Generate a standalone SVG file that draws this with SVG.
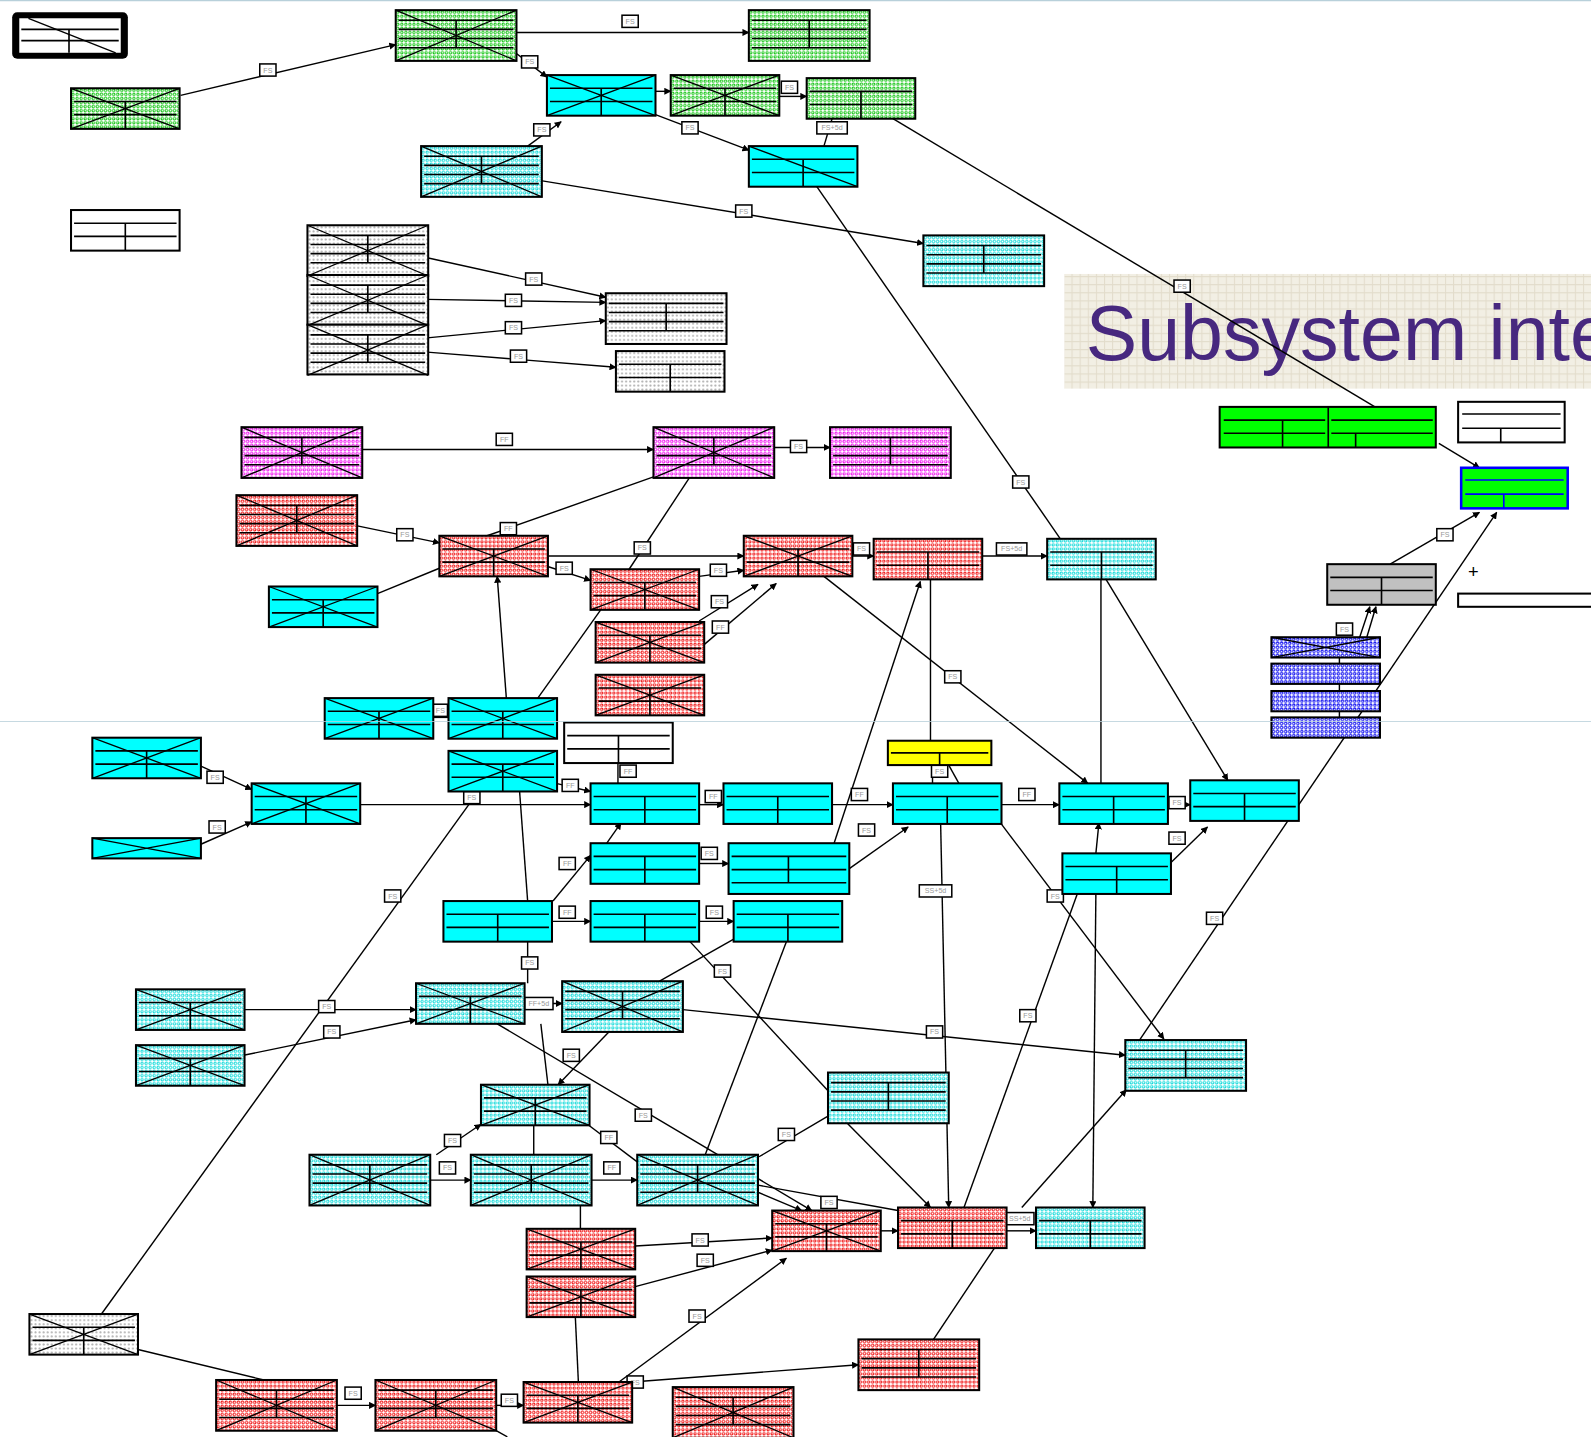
<svg xmlns="http://www.w3.org/2000/svg" xmlns:xlink="http://www.w3.org/1999/xlink" width="1591" height="1437" viewBox="0 0 1591 1437">
<style>
.b{stroke:#000;stroke-width:2}
.ln{fill:none;stroke:#000;stroke-width:1.6}
.xl{fill:none;stroke:#000;stroke-width:1.3}
.c{fill:none;stroke:#000;stroke-width:1.4}
.a{marker-end:url(#ar)}
.lb rect{fill:#fff;stroke:#000;stroke-width:1.5}
.lb text{font-family:"Liberation Sans",Arial,sans-serif;font-size:7px;fill:#999;text-anchor:middle}
.gd{fill:url(#pG)}.cd{fill:url(#pC)}.rd{fill:url(#pR)}.md{fill:url(#pM)}.kd{fill:url(#pK)}.bd{fill:url(#pB)}
.cy{fill:#00FFFF}.gr{fill:#00FF00}.ye{fill:#FFFF00}.gy{fill:#C0C0C0}.wh{fill:#fff}
</style>
<defs>
<pattern id="pG" width="4" height="4" patternUnits="userSpaceOnUse"><rect width="4" height="4" fill="#fff"/><circle cx="2" cy="2" r="1.2" fill="none" stroke="#00c000" stroke-width="0.9"/></pattern>
<pattern id="pC" width="4" height="4" patternUnits="userSpaceOnUse"><rect width="4" height="4" fill="#fff"/><circle cx="2" cy="2" r="1.2" fill="none" stroke="#00d8d8" stroke-width="0.9"/></pattern>
<pattern id="pR" width="4" height="4" patternUnits="userSpaceOnUse"><rect width="4" height="4" fill="#fff"/><circle cx="2" cy="2" r="1.2" fill="none" stroke="#f00000" stroke-width="0.9"/></pattern>
<pattern id="pM" width="4" height="4" patternUnits="userSpaceOnUse"><rect width="4" height="4" fill="#fff"/><circle cx="2" cy="2" r="1.2" fill="none" stroke="#f000f0" stroke-width="0.9"/></pattern>
<pattern id="pK" width="4" height="4" patternUnits="userSpaceOnUse"><rect width="4" height="4" fill="#fff"/><circle cx="2" cy="2" r="1" fill="#b0b0b0"/></pattern>
<pattern id="pB" width="4" height="4" patternUnits="userSpaceOnUse"><rect width="4" height="4" fill="#fff"/><circle cx="2" cy="2" r="1.2" fill="none" stroke="#1010f0" stroke-width="1"/></pattern>
<pattern id="pT" width="8" height="8" patternUnits="userSpaceOnUse"><rect width="8" height="8" fill="#f2efe4"/><path d="M0 0.5H8M0.5 0V8" stroke="#e2dccb" stroke-width="1"/></pattern>
<marker id="ar" viewBox="0 0 10 10" refX="9" refY="5" markerWidth="5" markerHeight="5" orient="auto-start-reverse"><path d="M0 0L10 5L0 10z" fill="#000"/></marker>
<path id="gA" class="ln" d="M3 13H104M3 26H104M53.5 13V40"/>
<path id="gB" class="ln" d="M3 10H116M3 19H116M3 28H116M3 37H116M59.5 10V37"/>
<path id="xA" class="xl" d="M0 0L107 40M107 0L0 40"/>
<path id="xB" class="xl" d="M0 0L119 50M119 0L0 50"/>
</defs>
<rect width="1591" height="1437" fill="#fff"/>
<g transform="scale(1.0147)">
<g id="title">
<rect x="1049" y="270" width="530" height="113" fill="url(#pT)"/>
<text x="1070" y="355" font-family="'Liberation Sans',Arial,sans-serif" font-size="76" fill="#47287f">Subsystem inte</text>
</g>
<g id="connectors">
<path class="c a" d="M178 94L390 44"/><path class="c a" d="M508 32H738"/><path class="c a" d="M508 52L539 76"/>
<path class="c a" d="M646 90H661"/><path class="c a" d="M768 95H795"/><path class="c a" d="M646 113L738 148"/>
<path class="c" d="M820 117L812 144"/><path class="c a" d="M520 144L553 120"/><path class="c a" d="M533 178L910 240"/>
<path class="c" d="M880 117L1355 401"/><path class="c" d="M805 184L1045 531"/>
<path class="c a" d="M421 254L597 293"/><path class="c a" d="M421 295L597 298"/><path class="c a" d="M421 333L597 316"/><path class="c a" d="M421 347L607 362"/>
<path class="c a" d="M357 443H644"/><path class="c a" d="M763 441H818"/><path class="c a" d="M351 518L433 535"/>
<path class="c" d="M644 470L480 528"/><path class="c" d="M372 585L433 560"/><path class="c a" d="M539 548H733"/>
<path class="c a" d="M539 558L582 572"/><path class="c" d="M680 470L620 561"/><path class="c a" d="M689 568L733 562"/>
<path class="c a" d="M689 612L747 576"/><path class="c a" d="M693 636L765 575"/><path class="c a" d="M839 548H861"/>
<path class="c a" d="M967 548H1032"/><path class="c" d="M917 571V730"/><path class="c a" d="M822 831L907 573"/>
<path class="c a" d="M812 568L1072 772"/><path class="c" d="M1085 571V772"/><path class="c a" d="M1090 571L1210 769"/>
<path class="c a" d="M1370 556L1458 505"/><path class="c a" d="M1123 1025L1475 505"/><path class="c a" d="M1418 437L1458 461"/>
<path class="c a" d="M1340 628L1350 598"/><path class="c a" d="M1347 628L1356 598"/>
<path class="c a" d="M499 688L490 568"/><path class="c" d="M530 688L592 601"/><path class="c" d="M427 707H442"/>
<path class="c a" d="M198 755L248 778"/><path class="c a" d="M198 832L248 810"/><path class="c a" d="M354 793H582"/>
<path class="c" d="M609 752V772"/><path class="c a" d="M548 772L582 780"/><path class="c a" d="M688 793H713"/>
<path class="c a" d="M819 793H880"/><path class="c a" d="M986 793H1044"/><path class="c a" d="M1150 793H1173"/>
<path class="c a" d="M837 856L895 815"/><path class="c a" d="M688 851H718"/><path class="c a" d="M545 888L582 843"/>
<path class="c" d="M919 754V772"/><path class="c" d="M935 754L945 772"/><path class="c a" d="M927 811L935 1190"/>
<path class="c a" d="M986 811L1147 1024"/><path class="c a" d="M1153 851L1190 815"/><path class="c a" d="M1080 841L1083 811"/>
<path class="c a" d="M1080 880L1077 1190"/><path class="c" d="M1062 880L950 1190"/>
<path class="c a" d="M543 908H582"/><path class="c a" d="M688 908H723"/><path class="c" d="M512 779L520 888"/>
<path class="c" d="M462 793L100 1295"/><path class="c" d="M520 928V969"/><path class="c a" d="M516 989H554"/>
<path class="c" d="M533 1009L540 1069"/><path class="c a" d="M600 1017L550 1069"/>
<path class="c a" d="M240 995H410"/><path class="c a" d="M240 1040L410 1005"/><path class="c a" d="M673 995L1109 1040"/>
<path class="c a" d="M490 1009L800 1193"/><path class="c" d="M680 928L816 1075"/><path class="c" d="M724 925L650 967"/>
<path class="c" d="M775 928L695 1138"/><path class="c" d="M575 1105L628 1145"/><path class="c a" d="M430 1138L474 1108"/>
<path class="c a" d="M424 1163H464"/><path class="c a" d="M583 1163H628"/><path class="c" d="M526 1109V1138"/>
<path class="c" d="M816 1100L748 1140"/><path class="c a" d="M747 1175L790 1193"/><path class="c" d="M747 1168L885 1193"/>
<path class="c a" d="M626 1228L761 1220"/><path class="c a" d="M626 1268L761 1232"/><path class="c" d="M572 1188V1211"/>
<path class="c" d="M567 1298L570 1362"/><path class="c a" d="M610 1362L775 1240"/><path class="c a" d="M867 1213H885"/>
<path class="c a" d="M991 1213H1021"/><path class="c a" d="M834 1106L917 1190"/><path class="c" d="M920 1320L980 1230"/>
<path class="c a" d="M1007 1190L1110 1074"/><path class="c" d="M136 1330L260 1360"/><path class="c a" d="M332 1385H370"/>
<path class="c a" d="M489 1385H516"/><path class="c a" d="M623 1362L846 1345"/><path class="c a" d="M598 831L612 811"/>
<path class="c" d="M1320 648V654M1320 674V681M1320 701V707M489 1410L500 1416"/>
<g class="lb">
<rect x="256" y="63" width="16" height="12"/><text x="264" y="71.5">FS</text>
<rect x="613" y="15" width="16" height="12"/><text x="621" y="23.5">FS</text>
<rect x="514" y="55" width="16" height="12"/><text x="522" y="63.5">FS</text>
<rect x="770" y="80" width="16" height="12"/><text x="778" y="88.5">FS</text>
<rect x="672" y="120" width="16" height="12"/><text x="680" y="128.5">FS</text>
<rect x="805" y="120" width="30" height="12"/><text x="820" y="128.5">FS+5d</text>
<rect x="526" y="122" width="16" height="12"/><text x="534" y="130.5">FS</text>
<rect x="725" y="202" width="16" height="12"/><text x="733" y="210.5">FS</text>
<rect x="1157" y="276" width="16" height="12"/><text x="1165" y="284.5">FS</text>
<rect x="998" y="469" width="16" height="12"/><text x="1006" y="477.5">FS</text>
<rect x="518" y="269" width="16" height="12"/><text x="526" y="277.5">FS</text>
<rect x="498" y="290" width="16" height="12"/><text x="506" y="298.5">FS</text>
<rect x="498" y="317" width="16" height="12"/><text x="506" y="325.5">FS</text>
<rect x="503" y="345" width="16" height="12"/><text x="511" y="353.5">FS</text>
<rect x="489" y="427" width="16" height="12"/><text x="497" y="435.5">FF</text>
<rect x="779" y="434" width="16" height="12"/><text x="787" y="442.5">FS</text>
<rect x="391" y="521" width="16" height="12"/><text x="399" y="529.5">FS</text>
<rect x="493" y="515" width="16" height="12"/><text x="501" y="523.5">FF</text>
<rect x="548" y="554" width="16" height="12"/><text x="556" y="562.5">FS</text>
<rect x="625" y="534" width="16" height="12"/><text x="633" y="542.5">FS</text>
<rect x="700" y="556" width="16" height="12"/><text x="708" y="564.5">FS</text>
<rect x="701" y="587" width="16" height="12"/><text x="709" y="595.5">FS</text>
<rect x="702" y="612" width="16" height="12"/><text x="710" y="620.5">FF</text>
<rect x="841" y="535" width="16" height="12"/><text x="849" y="543.5">FS</text>
<rect x="982" y="535" width="30" height="12"/><text x="997" y="543.5">FS+5d</text>
<rect x="931" y="661" width="16" height="12"/><text x="939" y="669.5">FS</text>
<rect x="1416" y="521" width="16" height="12"/><text x="1424" y="529.5">FS</text>
<rect x="1189" y="899" width="16" height="12"/><text x="1197" y="907.5">FS</text>
<rect x="1317" y="614" width="16" height="12"/><text x="1325" y="622.5">FS</text>
<rect x="427" y="694" width="14" height="12"/><text x="434" y="702.5">FS</text>
<rect x="204" y="760" width="16" height="12"/><text x="212" y="768.5">FS</text>
<rect x="206" y="809" width="16" height="12"/><text x="214" y="817.5">FS</text>
<rect x="457" y="780" width="16" height="12"/><text x="465" y="788.5">FS</text>
<rect x="611" y="754" width="16" height="12"/><text x="619" y="762.5">FF</text>
<rect x="554" y="768" width="16" height="12"/><text x="562" y="776.5">FF</text>
<rect x="695" y="779" width="16" height="12"/><text x="703" y="787.5">FF</text>
<rect x="839" y="777" width="16" height="12"/><text x="847" y="785.5">FF</text>
<rect x="1004" y="777" width="16" height="12"/><text x="1012" y="785.5">FF</text>
<rect x="1152" y="785" width="16" height="12"/><text x="1160" y="793.5">FS</text>
<rect x="846" y="812" width="16" height="12"/><text x="854" y="820.5">FS</text>
<rect x="691" y="835" width="16" height="12"/><text x="699" y="843.5">FS</text>
<rect x="551" y="845" width="16" height="12"/><text x="559" y="853.5">FF</text>
<rect x="918" y="754" width="16" height="12"/><text x="926" y="762.5">FS</text>
<rect x="906" y="872" width="32" height="12"/><text x="922" y="880.5">SS+5d</text>
<rect x="1032" y="877" width="16" height="12"/><text x="1040" y="885.5">FS</text>
<rect x="1152" y="820" width="16" height="12"/><text x="1160" y="828.5">FS</text>
<rect x="1005" y="995" width="16" height="12"/><text x="1013" y="1003.5">FS</text>
<rect x="551" y="893" width="16" height="12"/><text x="559" y="901.5">FF</text>
<rect x="696" y="893" width="16" height="12"/><text x="704" y="901.5">FS</text>
<rect x="379" y="877" width="16" height="12"/><text x="387" y="885.5">FS</text>
<rect x="514" y="943" width="16" height="12"/><text x="522" y="951.5">FS</text>
<rect x="517" y="983" width="28" height="12"/><text x="531" y="991.5">FF+5d</text>
<rect x="555" y="1034" width="16" height="12"/><text x="563" y="1042.5">FS</text>
<rect x="314" y="986" width="16" height="12"/><text x="322" y="994.5">FS</text>
<rect x="319" y="1011" width="16" height="12"/><text x="327" y="1019.5">FS</text>
<rect x="913" y="1011" width="16" height="12"/><text x="921" y="1019.5">FS</text>
<rect x="626" y="1093" width="16" height="12"/><text x="634" y="1101.5">FS</text>
<rect x="704" y="951" width="16" height="12"/><text x="712" y="959.5">FS</text>
<rect x="592" y="1115" width="16" height="12"/><text x="600" y="1123.5">FF</text>
<rect x="438" y="1118" width="16" height="12"/><text x="446" y="1126.5">FS</text>
<rect x="433" y="1145" width="16" height="12"/><text x="441" y="1153.5">FS</text>
<rect x="595" y="1145" width="16" height="12"/><text x="603" y="1153.5">FF</text>
<rect x="767" y="1112" width="16" height="12"/><text x="775" y="1120.5">FS</text>
<rect x="809" y="1179" width="16" height="12"/><text x="817" y="1187.5">FS</text>
<rect x="682" y="1216" width="16" height="12"/><text x="690" y="1224.5">FS</text>
<rect x="687" y="1236" width="16" height="12"/><text x="695" y="1244.5">FS</text>
<rect x="679" y="1291" width="16" height="12"/><text x="687" y="1299.5">FS</text>
<rect x="991" y="1195" width="28" height="12"/><text x="1005" y="1203.5">SS+5d</text>
<rect x="340" y="1367" width="16" height="12"/><text x="348" y="1375.5">FS</text>
<rect x="494" y="1374" width="16" height="12"/><text x="502" y="1382.5">FS</text>
<rect x="618" y="1356" width="16" height="12"/><text x="626" y="1364.5">FS</text>
</g>
</g>
<g id="nodes">
<g id="n1"><rect x="12" y="12" width="114" height="46" rx="5" fill="#000"/><rect x="19" y="18" width="100" height="34" fill="#fff"/><path class="ln" d="M21 29H117M21 40H117M68 29V52"/><path class="xl" d="M28 18L114 52"/></g>
<g id="n2" transform="translate(70,87)"><rect class="b gd" width="107" height="40"/><use href="#gA"/><use href="#xA"/></g>
<g id="n3" transform="translate(390,10)"><rect class="b gd" width="119" height="50"/><use href="#gB"/><use href="#xB"/></g>
<g id="n4" transform="translate(738,10)"><rect class="b gd" width="119" height="50"/><use href="#gB"/></g>
<g id="n5" transform="translate(539,74)"><rect class="b cy" width="107" height="40"/><use href="#gA"/><use href="#xA"/></g>
<g id="n6" transform="translate(661,74)"><rect class="b gd" width="107" height="40"/><use href="#gA"/><use href="#xA"/></g>
<g id="n7" transform="translate(795,77)"><rect class="b gd" width="107" height="40"/><use href="#gA"/></g>
<g id="n8" transform="translate(415,144)"><rect class="b cd" width="119" height="50"/><use href="#gB"/><use href="#xB"/></g>
<g id="n9" transform="translate(738,144)"><rect class="b cy" width="107" height="40"/><use href="#gA"/><path class="xl" d="M0 0L107 40"/></g>
<g id="n10" transform="translate(70,207)"><rect class="b wh" width="107" height="40"/><use href="#gA"/></g>
<g id="n11" transform="translate(910,232)"><rect class="b cd" width="119" height="50"/><use href="#gB"/></g>
<g id="n12a" transform="translate(303,222)"><rect class="b kd" width="119" height="50"/><use href="#gB"/><use href="#xB"/></g>
<g id="n12b" transform="translate(303,271)"><rect class="b kd" width="119" height="49"/><use href="#gB"/><use href="#xB"/></g>
<g id="n12c" transform="translate(303,320)"><rect class="b kd" width="119" height="49"/><use href="#gB"/><use href="#xB"/></g>
<g id="n13" transform="translate(597,289)"><rect class="b kd" width="119" height="50"/><use href="#gB"/></g>
<g id="n14" transform="translate(607,346)"><rect class="b kd" width="107" height="40"/><use href="#gA"/></g>
<g id="n16" transform="translate(1202,401)"><rect class="b gr" width="213" height="40"/><path class="ln" d="M4 13H104M4 26H104M62 13V40M107 0V40M110 13H210M110 26H210M134 26V40"/></g>
<g id="n17" transform="translate(1437,396)"><rect class="b wh" width="105" height="40"/><path class="ln" d="M4 12H101M4 26H101M42 26V40"/></g>
<g id="n18" transform="translate(1440,461)"><rect class="gr" width="105" height="40" stroke="#0000ff" stroke-width="2.5"/><path d="M4 12H101M4 26H101M42 26V40" fill="none" stroke="#0000ff" stroke-width="1.6"/></g>
<g id="n19" transform="translate(1308,556)"><rect class="b gy" width="107" height="40"/><use href="#gA"/></g>
<g id="n20"><text x="1452" y="570" font-family="'Liberation Sans',Arial,sans-serif" font-size="18" text-anchor="middle" fill="#000">+</text></g>
<g id="n21"><rect x="1437" y="585" width="140" height="13" class="b wh"/></g>
<g id="n22a" transform="translate(1253,628)"><rect class="b bd" width="107" height="20"/><path class="xl" d="M0 0L107 20M107 0L0 20"/></g>
<g id="n22b" transform="translate(1253,654)"><rect class="b bd" width="107" height="20"/></g>
<g id="n22c" transform="translate(1253,681)"><rect class="b bd" width="107" height="20"/></g>
<g id="n22d" transform="translate(1253,707)"><rect class="b bd" width="107" height="20"/></g>
<g id="n23" transform="translate(238,421)"><rect class="b md" width="119" height="50"/><use href="#gB"/><use href="#xB"/></g>
<g id="n24" transform="translate(644,421)"><rect class="b md" width="119" height="50"/><use href="#gB"/><use href="#xB"/></g>
<g id="n25" transform="translate(818,421)"><rect class="b md" width="119" height="50"/><use href="#gB"/></g>
<g id="n26" transform="translate(233,488)"><rect class="b rd" width="119" height="50"/><use href="#gB"/><use href="#xB"/></g>
<g id="n27" transform="translate(433,528)"><rect class="b rd" width="107" height="40"/><use href="#gA"/><use href="#xA"/></g>
<g id="n28" transform="translate(265,578)"><rect class="b cy" width="107" height="40"/><use href="#gA"/><use href="#xA"/></g>
<g id="n29" transform="translate(582,561)"><rect class="b rd" width="107" height="40"/><use href="#gA"/><use href="#xA"/></g>
<g id="n30" transform="translate(733,528)"><rect class="b rd" width="107" height="40"/><use href="#gA"/><use href="#xA"/></g>
<g id="n31" transform="translate(861,531)"><rect class="b rd" width="107" height="40"/><use href="#gA"/></g>
<g id="n32" transform="translate(1032,531)"><rect class="b cd" width="107" height="40"/><use href="#gA"/></g>
<g id="n33" transform="translate(587,613)"><rect class="b rd" width="107" height="40"/><use href="#gA"/><use href="#xA"/></g>
<g id="n34" transform="translate(587,665)"><rect class="b rd" width="107" height="40"/><use href="#gA"/><use href="#xA"/></g>
<g id="n35" transform="translate(320,688)"><rect class="b cy" width="107" height="40"/><use href="#gA"/><use href="#xA"/></g>
<g id="n36" transform="translate(442,688)"><rect class="b cy" width="107" height="40"/><use href="#gA"/><use href="#xA"/></g>
<g id="n37" transform="translate(556,712)"><rect class="b wh" width="107" height="40"/><use href="#gA"/></g>
<g id="n38" transform="translate(91,727)"><rect class="b cy" width="107" height="40"/><use href="#gA"/><use href="#xA"/></g>
<g id="n39" transform="translate(442,740)"><rect class="b cy" width="107" height="40"/><use href="#gA"/><use href="#xA"/></g>
<g id="n40" transform="translate(248,772)"><rect class="b cy" width="107" height="40"/><use href="#gA"/><use href="#xA"/></g>
<g id="n41" transform="translate(91,826)"><rect class="b cy" width="107" height="20"/><path class="xl" d="M0 0L107 20M107 0L0 20"/></g>
<g id="n42" transform="translate(875,730)"><rect class="b ye" width="102" height="24"/><path class="ln" d="M3 12H99M51 12V24"/></g>
<g id="n43" transform="translate(582,772)"><rect class="b cy" width="107" height="40"/><use href="#gA"/></g>
<g id="n44" transform="translate(713,772)"><rect class="b cy" width="107" height="40"/><use href="#gA"/></g>
<g id="n45" transform="translate(880,772)"><rect class="b cy" width="107" height="40"/><use href="#gA"/></g>
<g id="n46" transform="translate(1044,772)"><rect class="b cy" width="107" height="40"/><use href="#gA"/></g>
<g id="n47" transform="translate(1173,769)"><rect class="b cy" width="107" height="40"/><use href="#gA"/></g>
<g id="n48" transform="translate(582,831)"><rect class="b cy" width="107" height="40"/><use href="#gA"/></g>
<g id="n49" transform="translate(718,831)"><rect class="b cy" width="119" height="50"/><path class="ln" d="M3 13H116M3 26H116M3 39H116M59 13V39"/></g>
<g id="n50" transform="translate(1047,841)"><rect class="b cy" width="107" height="40"/><use href="#gA"/></g>
<g id="n51" transform="translate(437,888)"><rect class="b cy" width="107" height="40"/><use href="#gA"/></g>
<g id="n52" transform="translate(582,888)"><rect class="b cy" width="107" height="40"/><use href="#gA"/></g>
<g id="n53" transform="translate(723,888)"><rect class="b cy" width="107" height="40"/><use href="#gA"/></g>
<g id="n54" transform="translate(134,975)"><rect class="b cd" width="107" height="40"/><use href="#gA"/><use href="#xA"/></g>
<g id="n55" transform="translate(134,1030)"><rect class="b cd" width="107" height="40"/><use href="#gA"/><use href="#xA"/></g>
<g id="n56" transform="translate(410,969)"><rect class="b cd" width="107" height="40"/><use href="#gA"/><use href="#xA"/></g>
<g id="n57" transform="translate(554,967)"><rect class="b cd" width="119" height="50"/><use href="#gB"/><use href="#xB"/></g>
<g id="n58" transform="translate(1109,1025)"><rect class="b cd" width="119" height="50"/><use href="#gB"/></g>
<g id="n59" transform="translate(816,1057)"><rect class="b cd" width="119" height="50"/><use href="#gB"/></g>
<g id="n60" transform="translate(474,1069)"><rect class="b cd" width="107" height="40"/><use href="#gA"/><use href="#xA"/></g>
<g id="n61" transform="translate(305,1138)"><rect class="b cd" width="119" height="50"/><use href="#gB"/><use href="#xB"/></g>
<g id="n62" transform="translate(464,1138)"><rect class="b cd" width="119" height="50"/><use href="#gB"/><use href="#xB"/></g>
<g id="n63" transform="translate(628,1138)"><rect class="b cd" width="119" height="50"/><use href="#gB"/><use href="#xB"/></g>
<g id="n64" transform="translate(761,1193)"><rect class="b rd" width="107" height="40"/><use href="#gA"/><use href="#xA"/></g>
<g id="n65" transform="translate(885,1190)"><rect class="b rd" width="107" height="40"/><use href="#gA"/></g>
<g id="n66" transform="translate(1021,1190)"><rect class="b cd" width="107" height="40"/><use href="#gA"/></g>
<g id="n67" transform="translate(519,1211)"><rect class="b rd" width="107" height="40"/><use href="#gA"/><use href="#xA"/></g>
<g id="n68" transform="translate(519,1258)"><rect class="b rd" width="107" height="40"/><use href="#gA"/><use href="#xA"/></g>
<g id="n69" transform="translate(29,1295)"><rect class="b kd" width="107" height="40"/><use href="#gA"/><use href="#xA"/></g>
<g id="n70" transform="translate(846,1320)"><rect class="b rd" width="119" height="50"/><use href="#gB"/></g>
<g id="n71" transform="translate(213,1360)"><rect class="b rd" width="119" height="50"/><use href="#gB"/><use href="#xB"/></g>
<g id="n72" transform="translate(370,1360)"><rect class="b rd" width="119" height="50"/><use href="#gB"/><use href="#xB"/></g>
<g id="n73" transform="translate(516,1362)"><rect class="b rd" width="107" height="40"/><use href="#gA"/><use href="#xA"/></g>
<g id="n74" transform="translate(663,1367)"><rect class="b rd" width="119" height="50"/><use href="#gB"/><use href="#xB"/></g>
</g>
<path d="M0 711H1568" stroke="#b8d0da" stroke-width="1" opacity="0.8"/>
<path d="M0 0.5H1568" stroke="#b8d0da" stroke-width="1.5"/>
</g>
</svg>
